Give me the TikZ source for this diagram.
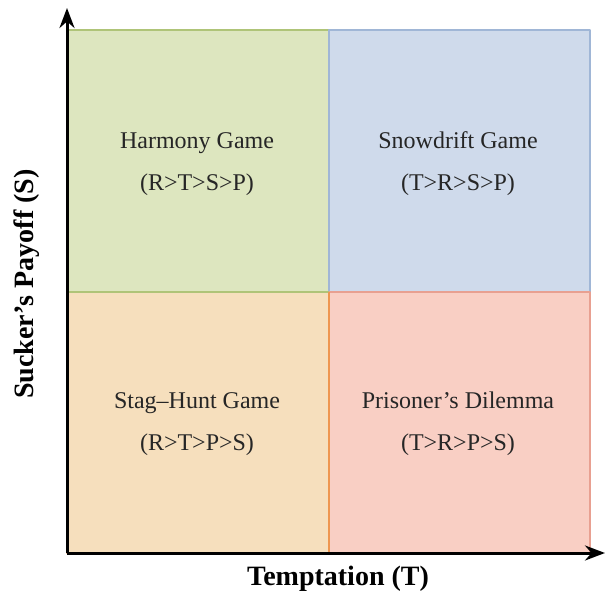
\documentclass[tikz,border=0pt]{standalone}
\usepackage{fontspec}
\setmainfont{Liberation Serif}
\usetikzlibrary{arrows.meta}
\begin{document}
\begin{tikzpicture}[x=1pt, y=-1pt, >={Stealth[length=20pt,width=15pt]}, line join=round]
				\colorlet{harmony fill}{rgb,255:red,221;green,230;blue,191}
				\colorlet{harmony edge}{rgb,255:red,175;green,196;blue,120}
				\colorlet{snow fill}{rgb,255:red,207;green,218;blue,235}
				\colorlet{snow edge}{rgb,255:red,160;green,182;blue,214}
				\colorlet{stag fill}{rgb,255:red,246;green,223;blue,189}
				\colorlet{stag edge}{rgb,255:red,238;green,150;blue,80}
				\colorlet{pd fill}{rgb,255:red,249;green,207;blue,196}
				\colorlet{pd edge}{rgb,255:red,232;green,160;blue,145}
				\tikzset{game/.style={font=\fontsize{24}{28}\selectfont, text=black!85, align=center},
					axislabel/.style={font=\fontsize{28}{32}\selectfont\bfseries}}
				\useasboundingbox (0,0) rectangle (605,601);
				% quadrants
				\filldraw[fill=harmony fill, draw=harmony edge, line width=1.5pt] (67,30) rectangle (329,292);
				\filldraw[fill=snow fill, draw=snow edge, line width=1.5pt] (329,30) rectangle (590,292);
				\filldraw[fill=stag fill, draw=stag edge, line width=1.5pt] (67,292) rectangle (329,553);
				\filldraw[fill=pd fill, draw=pd edge, line width=1.5pt] (329,292) rectangle (590,553);
				\draw[harmony edge, line width=1.5pt] (67,292) -- (329,292);
				\draw[stag edge, line width=1.5pt] (329,292) -- (329,553);
				\node[game] (harmony) at (197,164) {Harmony Game\\[14pt](R>T>S>P)};
				\node[game] (snowdrift) at (458,164) {Snowdrift Game\\[14pt](T>R>S>P)};
				\node[game] (staghunt) at (197,424) {Stag--Hunt Game\\[14pt](R>T>P>S)};
				\node[game] (pd) at (458,424) {Prisoner's Dilemma\\[14pt](T>R>P>S)};
				% axes
				\coordinate (origin) at (67,553);
				\coordinate (ytip) at (67,8);
				\coordinate (xtip) at (605,553);
				\draw[->, line width=3pt] (origin) -- (ytip);
				\draw[->, line width=3pt] (origin) -- (xtip);
				\node[axislabel] (tlabel) at (338,579) {Temptation (T)};
				\node[axislabel, rotate=90] (slabel) at (27,284) {Sucker's Payoff (S)};
		\end{tikzpicture}
\end{document}
